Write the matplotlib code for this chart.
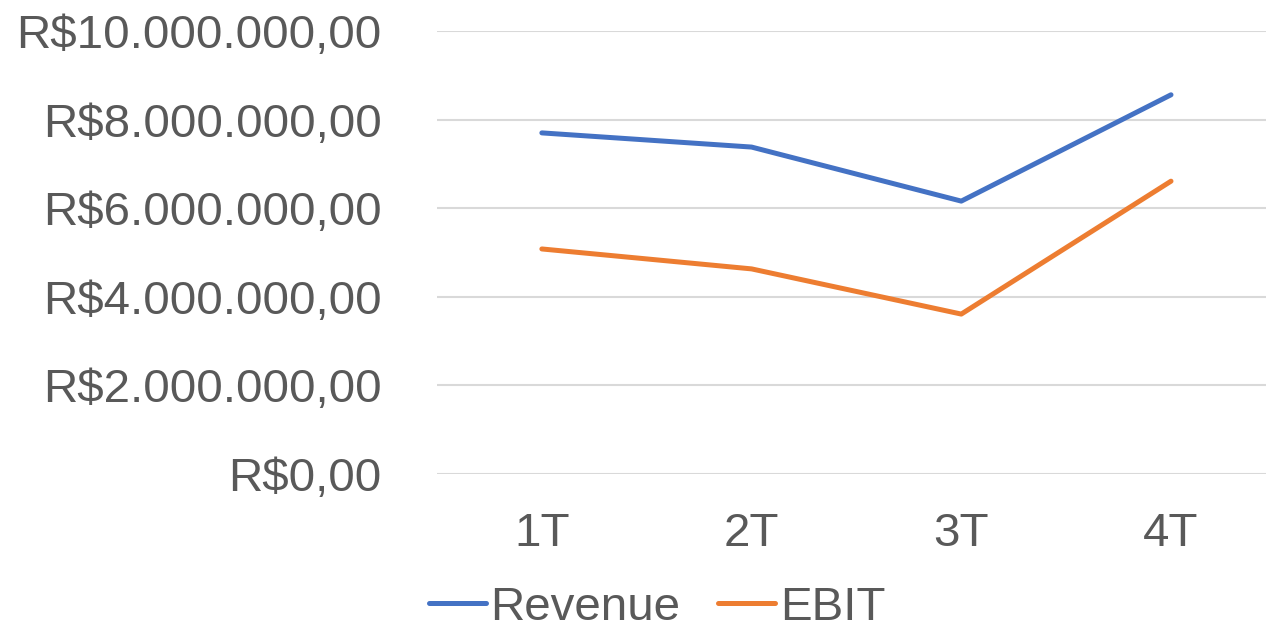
import matplotlib
matplotlib.use('Agg')
from matplotlib import pyplot as plt
from matplotlib.ticker import FuncFormatter

quarters = ['1T', '2T', '3T', '4T']
revenue = [7.70e6, 7.38e6, 6.16e6, 8.56e6]
ebit = [5.08e6, 4.63e6, 3.61e6, 6.61e6]
yticks = [0, 2e6, 4e6, 6e6, 8e6, 10e6]

plt.rcParams['font.family'] = ['Liberation Sans', 'DejaVu Sans']
text_color = '#595959'


def brl(v, pos=None):
    s = '{:,.2f}'.format(v)
    s = s.replace(',', 'X').replace('.', ',').replace('X', '.')
    return 'R$' + s


fig = plt.figure(figsize=(12.66, 6.3), dpi=100)
ax = fig.add_axes([437 / 1266, 156 / 630, 829 / 1266, 443 / 630])

x = range(len(quarters))
ax.plot(x, revenue, color='#4472C4', linewidth=3.6, solid_capstyle='round',
        solid_joinstyle='round', label='Revenue')
ax.plot(x, ebit, color='#ED7D31', linewidth=3.6, solid_capstyle='round',
        solid_joinstyle='round', label='EBIT')

ax.set_xlim(-0.5, 3.453)
ax.set_ylim(0, 10e6)
ax.set_xticks(list(x))
ax.set_xticklabels(quarters)
ax.set_yticks(yticks)
ax.yaxis.set_major_formatter(FuncFormatter(brl))
ax.grid(axis='y', color='#d9d9d9', linewidth=1.5)
ax.set_axisbelow(True)
for s in ax.spines.values():
    s.set_visible(False)
ax.tick_params(axis='both', length=0, labelsize=34.2, labelcolor=text_color)
ax.tick_params(axis='y', pad=40)
ax.tick_params(axis='x', pad=27)

leg = fig.legend(loc='center', bbox_to_anchor=(657 / 1266, 22 / 630), ncol=2,
                 frameon=False, fontsize=34.2, handlelength=1.2,
                 handletextpad=0.1, columnspacing=0.8, borderpad=0)
for t in leg.get_texts():
    t.set_color(text_color)

fig.savefig('out.png', dpi=100)
